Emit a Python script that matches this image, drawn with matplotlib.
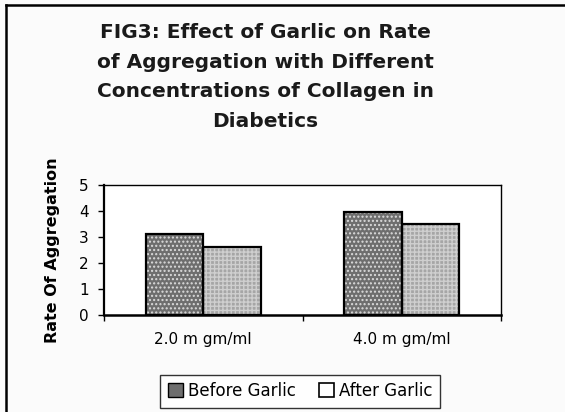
import matplotlib
matplotlib.use("Agg")
import matplotlib.pyplot as plt
import numpy as np
from matplotlib.lines import Line2D
from matplotlib.patches import Patch

categories = ["2.0 m gm/ml", "4.0 m gm/ml"]
before_garlic = [3.1, 3.95]
after_garlic = [2.6, 3.5]
series_names = ["Before Garlic", "After Garlic"]
y_ticks = [0, 1, 2, 3, 4, 5]

W, H = 565, 412
fig = plt.figure(figsize=(W / 100, H / 100), dpi=100)
fig.patch.set_facecolor("#fbfbfb")

ax = fig.add_axes([104 / W, 1 - 315 / H, (501 - 104) / W, 130 / H])
ax.set_facecolor("white")

x = np.arange(len(categories))
bw = 0.29
styles = [
    dict(face="#6e6e6e", hatch="....", hcol="#dcdcdc"),
    dict(face="#a6a6a6", hatch="++++", hcol="#cfcfcf"),
]
for i, (vals, st) in enumerate(zip([before_garlic, after_garlic], styles)):
    pos = x + (i - 0.5) * bw
    ax.bar(pos, vals, width=bw, color=st["face"], hatch=st["hatch"],
           edgecolor=st["hcol"], linewidth=0, zorder=2)
    ax.bar(pos, vals, width=bw, fill=False, edgecolor="black",
           linewidth=1.6, zorder=3)

ax.set_xlim(-0.5, len(categories) - 0.5)
ax.set_ylim(0, 5)
ax.set_yticks(y_ticks)
ax.set_yticklabels([str(t) for t in y_ticks], fontsize=11, family="DejaVu Sans")
ax.set_xticks(np.arange(len(categories) + 1) - 0.5)
ax.set_xticklabels([])
ax.set_xticks(x, minor=True)
ax.set_xticklabels(categories, minor=True, fontsize=11, family="DejaVu Sans")
ax.tick_params(axis="x", which="minor", length=0, pad=12)
ax.tick_params(axis="x", which="major", length=4, width=1, direction="out")
ax.tick_params(axis="y", length=4, width=1, direction="out", pad=7)
for s in ax.spines.values():
    s.set_linewidth(1.0)
    s.set_color("black")
ax.spines["bottom"].set_linewidth(1.8)
ax.spines["left"].set_linewidth(1.6)

ax.set_ylabel("Rate Of Aggregation", fontsize=11.5, fontweight="heavy",
              family="DejaVu Sans Condensed", labelpad=14)

title = ("FIG3: Effect of Garlic on Rate\n"
         "of Aggregation with Different\n"
         "Concentrations of Collagen in\n"
         "Diabetics")
fig.text(0.47, 1 - 77 / H, title, ha="center", va="center", fontsize=14.5,
         fontweight="bold", family="DejaVu Sans", color="#1a1a1a",
         linespacing=1.72)

handles = [Patch(facecolor=st["face"], edgecolor="black", linewidth=1)
           for st in styles]
handles[1] = Patch(facecolor="white", edgecolor="black", linewidth=1.2)
leg = fig.legend(handles, series_names, loc="center", ncol=2,
                 bbox_to_anchor=(300 / W, 1 - 391 / H), frameon=True,
                 fancybox=False, edgecolor="black", fontsize=12,
                 handlelength=0.9, handleheight=0.9, handletextpad=0.3,
                 columnspacing=1.4, borderpad=0.45)
leg.get_frame().set_linewidth(1.0)

fig.add_artist(Line2D([6 / W, 6 / W], [0, 1 - 5 / H], color="black", lw=1.8))
fig.add_artist(Line2D([6 / W, 1], [1 - 5 / H, 1 - 5 / H], color="black", lw=1.8))

fig.savefig("out.png", dpi=100, facecolor=fig.get_facecolor())
